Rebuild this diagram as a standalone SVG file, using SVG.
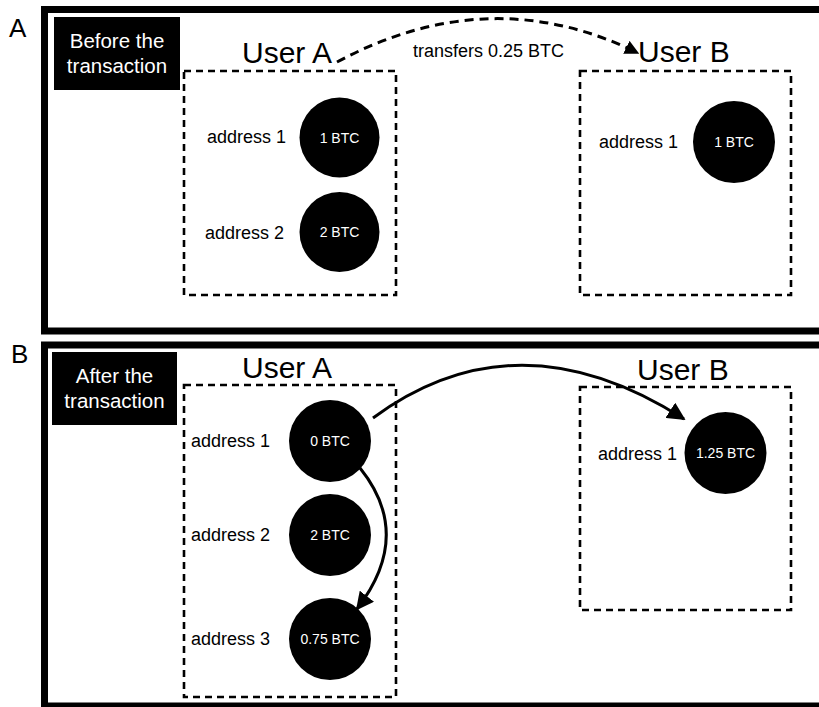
<svg xmlns="http://www.w3.org/2000/svg" width="819" height="707" viewBox="0 0 819 707">
<style>
.frame{fill:none;stroke:#000;stroke-width:7}
.box{fill:none;stroke:#000;stroke-width:2.6;stroke-dasharray:7 5}
.coin{fill:#000}
.t{font-family:"Liberation Sans",Arial,sans-serif;fill:#000}
.panel{font-size:26px}
.user{font-size:30px}
.addr{font-size:18px}
.val{font-size:14px;fill:#fff;text-anchor:middle}
.tag{font-size:20.5px;fill:#fff;text-anchor:middle}
.conn{fill:none;stroke:#000;stroke-width:3}
.dash{stroke-dasharray:9 6}
</style>
<defs>
<marker id="ah" viewBox="0 0 10 10" refX="9" refY="5" markerWidth="6" markerHeight="6" orient="auto" markerUnits="strokeWidth">
<path d="M0,0 L10,5 L0,10 Z" fill="#000"/>
</marker>
<marker id="ahs" viewBox="0 0 10 10" refX="9" refY="5" markerWidth="4.8" markerHeight="4.8" orient="auto" markerUnits="strokeWidth">
<path d="M0,0 L10,5 L0,10 Z" fill="#000"/>
</marker>
</defs>
<g id="panelA">
<rect class="frame" x="44.5" y="9.5" width="800" height="321.5"/>
<text class="t panel" x="9" y="37">A</text>
<g id="labelBefore">
<rect x="54" y="17" width="126" height="73" fill="#000"/>
<text class="t tag" x="117" y="48">Before the</text>
<text class="t tag" x="117" y="73">transaction</text>
</g>
<g id="userA1">
<rect class="box" x="184" y="71" width="212" height="224"/>
<text class="t user" x="242" y="63">User A</text>
<text class="t addr" x="207" y="143">address 1</text>
<circle class="coin" cx="339.5" cy="137.5" r="40"/>
<text class="t val" x="339.5" y="142.5">1 BTC</text>
<text class="t addr" x="205" y="239">address 2</text>
<circle class="coin" cx="339.5" cy="232" r="40"/>
<text class="t val" x="339.5" y="237">2 BTC</text>
</g>
<g id="userB1">
<rect class="box" x="580" y="71" width="211" height="224"/>
<text class="t user" x="638" y="62">User B</text>
<text class="t addr" x="599" y="148">address 1</text>
<circle class="coin" cx="734" cy="142" r="41"/>
<text class="t val" x="734" y="147">1 BTC</text>
</g>
</g>
<g id="panelB">
<rect class="frame" x="44.5" y="345" width="800" height="361"/>
<text class="t panel" x="11" y="363">B</text>
<g id="labelAfter">
<rect x="52" y="352" width="125" height="73" fill="#000"/>
<text class="t tag" x="114.5" y="383">After the</text>
<text class="t tag" x="114.5" y="408">transaction</text>
</g>
<g id="userA2">
<rect class="box" x="184" y="385" width="212" height="312"/>
<text class="t user" x="242" y="378">User A</text>
<text class="t addr" x="191" y="447">address 1</text>
<circle class="coin" cx="330" cy="441" r="41"/>
<text class="t val" x="330" y="446">0 BTC</text>
<text class="t addr" x="191" y="541">address 2</text>
<circle class="coin" cx="330" cy="535" r="41"/>
<text class="t val" x="330" y="540">2 BTC</text>
<text class="t addr" x="191" y="645">address 3</text>
<circle class="coin" cx="330" cy="639" r="41"/>
<text class="t val" x="330" y="644">0.75 BTC</text>
</g>
<g id="userB2">
<rect class="box" x="580" y="387" width="211" height="223"/>
<text class="t user" x="637" y="380">User B</text>
<text class="t addr" x="598" y="460">address 1</text>
<circle class="coin" cx="725.5" cy="453" r="41"/>
<text class="t val" x="725.5" y="458">1.25 BTC</text>
</g>
</g>
<g id="connectors">
<path class="conn dash" d="M337,62 Q490,-20 638,53" marker-end="url(#ahs)"/>
<text class="t addr" x="413" y="57">transfers 0.25 BTC</text>
<path class="conn" d="M373,418 Q517,312 684,419" marker-end="url(#ah)"/>
<path class="conn" d="M360,468 Q414,535 357,609" marker-end="url(#ah)"/>
</g>
</svg>
